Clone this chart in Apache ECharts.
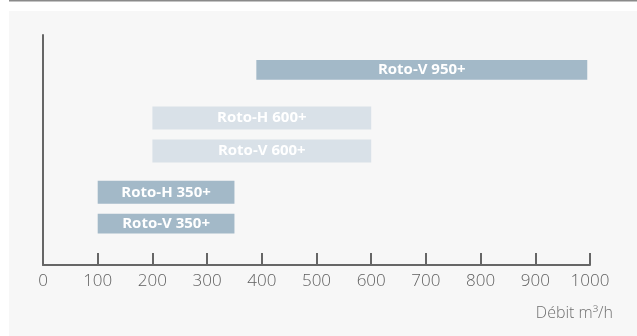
<!DOCTYPE html>
<html><head><meta charset="utf-8">
<script src="https://cdn.jsdelivr.net/npm/echarts@6/dist/echarts.min.js"></script>
<style>html,body{margin:0;padding:0;background:#fff}#c{width:637px;height:336px}</style>
</head><body><div id="c"></div>
<script>
// Rows from bottom to top; blank entries are empty spacing slots
const categories = ['Roto-V 350+','','','','Roto-H 350+','','','','','Roto-V 600+','','','','Roto-H 600+','','','','','','Roto-V 950+'];
const startValues = [100,null,null,null,100,null,null,null,null,200,null,null,null,200,null,null,null,null,null,390];
const endValues   = [350,null,null,null,350,null,null,null,null,600,null,null,null,600,null,null,null,null,null,995];
const lightRows = ['Roto-V 600+','Roto-H 600+'];
const xTicks = [0,100,200,300,400,500,600,700,800,900,1000];
const axisTitle = 'Débit m³/h';

const dark = '#a3b9c8', light = '#d9e1e8';
const spans = startValues.map((s,i)=> s==null ? null : endValues[i]-s);

const chart = echarts.init(document.getElementById('c'), null, {renderer:'canvas'});
chart.setOption({
  backgroundColor: '#ffffff',
  animation: false,
  graphic: [
    {type:'rect', shape:{x:9,y:11,width:628,height:325}, style:{fill:'#f7f7f7'}, z:-10},
    {type:'rect', shape:{x:9,y:0,width:628,height:1.5}, style:{fill:'#8a8a8a'}, z:-10},
    {type:'text', right:24, top:305, style:{text:axisTitle, fill:'#707070', font:'300 16px "Open Sans"'}}
  ],
  grid: [
    {left:43, right:47, top:35, bottom:71},
    {left:43, right:47, top:68.3, bottom:110.7}
  ],
  xAxis: [
    {gridIndex:0, type:'value', min:xTicks[0], max:xTicks[xTicks.length-1], interval:100,
     axisLine:{show:true, lineStyle:{color:'#666', width:2}},
     axisTick:{show:true, inside:true, length:12, lineStyle:{color:'#666', width:2}},
     axisLabel:{color:'#606060', fontSize:17, fontFamily:'Open Sans', fontWeight:300, margin:8,
       formatter: v => String(v)},
     splitLine:{show:false}},
    {gridIndex:1, type:'value', min:xTicks[0], max:xTicks[xTicks.length-1], show:false}
  ],
  yAxis: [
    {gridIndex:0, type:'value', min:0, max:1,
     axisLine:{show:true, lineStyle:{color:'#666', width:2}},
     axisTick:{show:false}, axisLabel:{show:false}, splitLine:{show:false}},
    {gridIndex:1, type:'category', data:categories, boundaryGap:false, show:false}
  ],
  series: [
    {type:'bar', xAxisIndex:1, yAxisIndex:1, stack:'r', data:startValues,
     itemStyle:{color:'transparent'}, barWidth:23, silent:true},
    {type:'bar', xAxisIndex:1, yAxisIndex:1, stack:'r', barWidth:23,
     data: spans.map((v,i)=> v==null ? null : {value:v, itemStyle:{color: lightRows.includes(categories[i]) ? light : dark}}),
     label:{show:true, position:'inside', color:'#fff', fontSize:15, fontWeight:'bold', fontFamily:'Open Sans',
       formatter: p => categories[p.dataIndex]}}
  ]
});
</script></body></html>
